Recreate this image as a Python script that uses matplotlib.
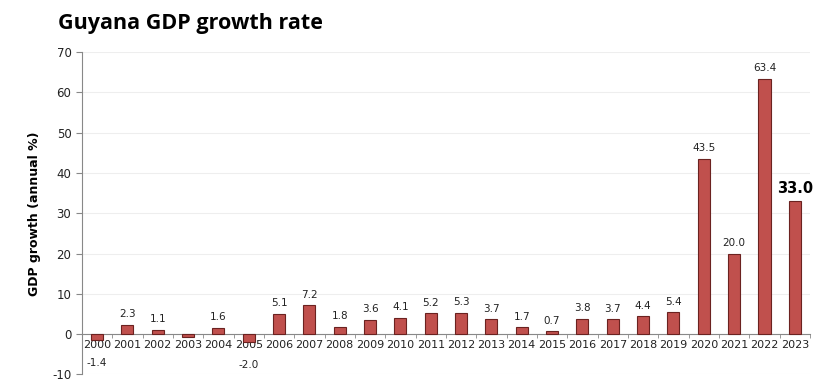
import numpy as np
import matplotlib.pyplot as plt

plt.switch_backend('Agg')
plt.rcParams['axes.unicode_minus'] = False

years = [str(y) for y in range(2000, 2024)]
growth = [-1.4, 2.3, 1.1, -0.6, 1.6, -2.0, 5.1, 7.2, 1.8, 3.6, 4.1, 5.2,
          5.3, 3.7, 1.7, 0.7, 3.8, 3.7, 4.4, 5.4, 43.5, 20.0, 63.4, 33.0]
labels = ['-1.4', '2.3', '1.1', '', '1.6', '-2.0', '5.1', '7.2', '1.8', '3.6',
          '4.1', '5.2', '5.3', '3.7', '1.7', '0.7', '3.8', '3.7', '4.4', '5.4',
          '43.5', '20.0', '63.4', '33.0']

bar_color = '#C0504D'
x = np.arange(len(years))

fig = plt.figure(figsize=(8.35, 3.86), dpi=100)
ax = fig.add_axes([0.098, 0.03, 0.872, 0.835])

ax.bar(x, growth, width=0.4, color=bar_color, edgecolor='#6b2220', linewidth=0.8, zorder=3)

for i, (v, lab) in enumerate(zip(growth, labels)):
    if not lab:
        continue
    if i == len(growth) - 1:
        ax.annotate(lab, (i, v), xytext=(0, 4), textcoords='offset points',
                    ha='center', va='bottom', fontsize=10.5, fontweight='bold')
    elif v >= 0:
        ax.annotate(lab, (i, v), xytext=(0, 4), textcoords='offset points',
                    ha='center', va='bottom', fontsize=7.5, color='#222222')
    else:
        ax.annotate(lab, (i, v), xytext=(0, -13), textcoords='offset points',
                    ha='center', va='top', fontsize=7.5, color='#222222')

ax.set_xlim(-0.5, len(years) - 0.5)
ax.set_ylim(-10, 70)
ax.set_yticks(range(-10, 71, 10))
ax.set_xticks(x)
ax.set_xticklabels(years)
ax.set_xticks(np.arange(-0.5, len(years), 1), minor=True)
ax.tick_params(axis='x', which='major', length=0, pad=4, labelcolor='#222222',
               labelsize=8, labelfontfamily='Liberation Sans Narrow')
ax.tick_params(axis='x', which='minor', length=3, direction='out', color='#888888')
ax.tick_params(axis='y', labelsize=8.5, length=4, color='#888888', labelcolor='#222222')

ax.spines['bottom'].set_position(('data', 0))
ax.spines['bottom'].set_color('#888888')
ax.spines['left'].set_color('#888888')
ax.spines['top'].set_visible(False)
ax.spines['right'].set_visible(False)
ax.grid(axis='y', color='#eeeeee', linewidth=0.8, zorder=0)
ax.set_axisbelow(True)

ax.set_ylabel('GDP growth (annual %)', fontsize=9, fontweight='bold', labelpad=8)
fig.text(0.069, 0.94, 'Guyana GDP growth rate', fontsize=15.5, fontweight='bold',
         family='Open Sans', va='center', ha='left')

fig.savefig('out.png', dpi=100)
